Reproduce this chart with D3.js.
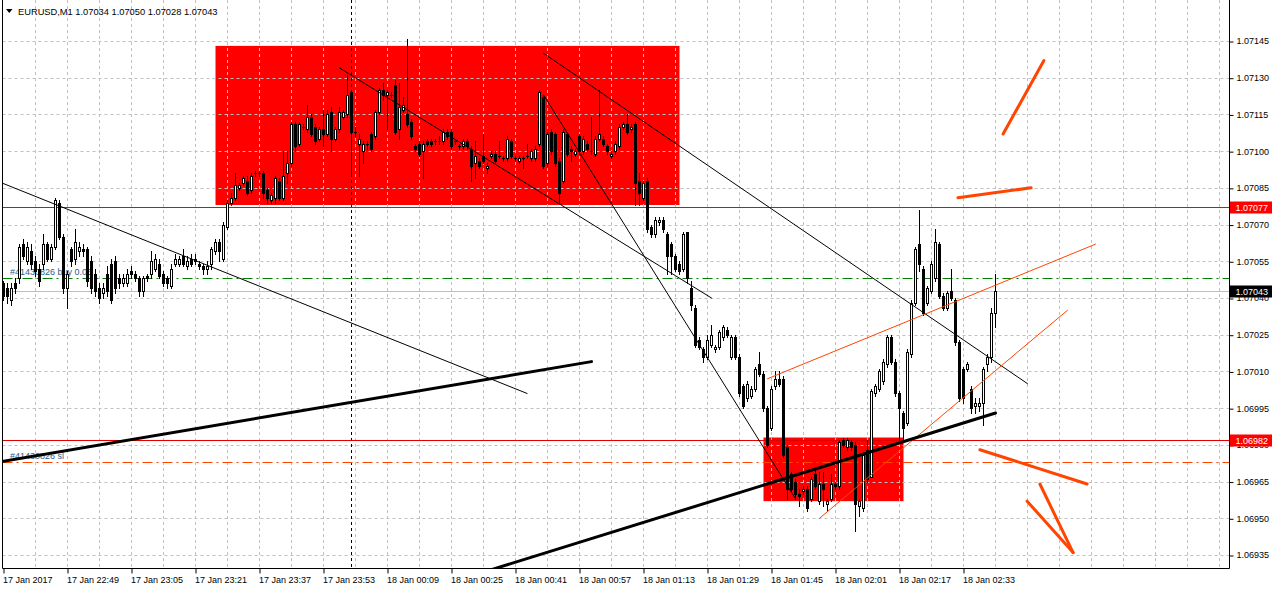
<!DOCTYPE html>
<html><head><meta charset="utf-8">
<script src="https://cdn.jsdelivr.net/npm/d3@7/dist/d3.min.js"></script>
<style>
body{margin:0;background:#fff;}
svg{display:block;}
text{font-family:'Liberation Sans',Arial,sans-serif;}
</style>
</head><body>
<svg id="chart" width="1272" height="589"></svg>
<script>
// ---------------- DATA ----------------
const symbol = "EURUSD,M1";
const headerOHLC = ["1.07034","1.07050","1.07028","1.07043"];
// prices in points (1 point = 0.00001)
const openPts = [107046,107044,107039,107046,107048,107062,107055,107059,107055,107052,107054,107062,107056,107061,107079,107065,107044,107060,107056,107059,107060,107060,107055,107050,107044,107042,107050,107054,107055,107048,107046,107046,107051,107050,107048,107043,107049,107050,107052,107054,107050,107048,107045,107054,107054,107057,107053,107056,107055,107054,107053,107052,107054,107059,107063,107056,107069,107079,107081,107085,107087,107088,107084,107091,107091,107091,107084,107080,107081,107088,107081,107091,107095,107111,107103,107110,107109,107114,107110,107105,107109,107107,107116,107105,107109,107114,107115,107124,107108,107103,107100,107103,107107,107106,107116,107125,107123,107123,107127,107109,107117,107115,107112,107102,107103,107100,107104,107104,107104,107104,107104,107108,107108,107104,107102,107102,107104,107101,107095,107096,107098,107093,107098,107099,107098,107097,107097,107104,107097,107096,107097,107098,107097,107097,107103,107122,107095,107108,107107,107096,107088,107107,107101,107099,107106,107100,107103,107100,107099,107105,107105,107102,107098,107100,107102,107110,107111,107109,107111,107088,107081,107088,107069,107066,107071,107072,107066,107062,107057,107054,107052,107067,107044,107036,107023,107019,107016,107021,107019,107020,107024,107027,107016,107024,107016,107004,106999,107000,107003,107013,107009,106995,106987,107004,107007,107007,106979,106968,106965,106960,106961,106962,106958,106968,106957,106964,106956,106958,106964,106963,106982,106979,106981,106980,106955,106954,106978,106967,107001,107003,107006,107013,107024,107014,107001,106993,106989,107017,107038,107062,107052,107038,107043,107048,107062,107041,107036,107043,107039,107022,107011,107011,107003,106996,106996,106997,107013,107016,107034];
const highPts = [107047,107046,107046,107048,107062,107064,107063,107062,107057,107054,107066,107063,107062,107081,107080,107066,107051,107061,107068,107063,107062,107061,107057,107052,107046,107046,107053,107056,107057,107050,107050,107052,107053,107051,107049,107049,107050,107059,107058,107056,107051,107049,107054,107058,107057,107060,107057,107058,107058,107055,107054,107055,107061,107064,107064,107071,107080,107083,107091,107087,107090,107090,107091,107092,107092,107092,107085,107083,107090,107089,107100,107100,107112,107112,107112,107111,107119,107115,107111,107110,107117,107117,107118,107110,107118,107117,107131,107125,107110,107107,107104,107104,107108,107117,107126,107128,107125,107124,107129,107128,107122,107146,107113,107103,107104,107104,107105,107105,107105,107106,107109,107109,107109,107105,107103,107105,107105,107102,107104,107097,107107,107095,107100,107100,107104,107098,107106,107105,107098,107098,107098,107103,107101,107102,107125,107123,107108,107109,107108,107097,107109,107108,107102,107101,107107,107106,107104,107114,107106,107125,107106,107103,107100,107104,107111,107112,107115,107111,107112,107091,107088,107089,107070,107073,107073,107073,107067,107063,107058,107055,107067,107067,107047,107037,107024,107020,107025,107029,107021,107027,107029,107028,107025,107025,107017,107005,107006,107004,107012,107018,107010,106996,107004,107010,107010,107008,106980,106969,106966,106962,106963,106963,106967,106970,106969,106969,106958,106968,106965,106982,106983,106983,106982,106981,106958,106977,106982,107003,107005,107011,107015,107025,107025,107015,107002,106994,107019,107039,107061,107076,107053,107045,107055,107068,107063,107042,107043,107052,107040,107023,107012,107014,107004,106999,106999,107012,107017,107036,107050];
const lowPts = [107039,107038,107037,107042,107046,107056,107054,107052,107049,107045,107052,107055,107055,107060,107064,107042,107036,107053,107054,107057,107057,107045,107042,107041,107038,107040,107041,107038,107042,107044,107045,107045,107048,107047,107041,107041,107047,107048,107051,107048,107045,107044,107044,107053,107053,107053,107052,107053,107054,107052,107050,107050,107052,107058,107055,107055,107068,107078,107080,107084,107086,107082,107083,107090,107090,107081,107079,107079,107079,107080,107080,107087,107094,107100,107102,107109,107108,107106,107103,107104,107102,107106,107100,107104,107108,107113,107114,107091,107106,107090,107095,107101,107100,107105,107115,107121,107109,107122,107107,107105,107116,107110,107105,107100,107098,107089,107102,107102,107103,107103,107103,107105,107101,107103,107101,107101,107101,107088,107089,107093,107095,107091,107097,107095,107097,107096,107096,107097,107096,107095,107093,107097,107096,107096,107102,107093,107094,107099,107094,107079,107087,107098,107096,107098,107099,107099,107100,107099,107098,107104,107102,107099,107097,107099,107101,107109,107107,107108,107078,107078,107080,107067,107065,107065,107070,107067,107050,107050,107051,107050,107051,107046,107035,107020,107019,107014,107015,107020,107018,107019,107023,107024,107015,107015,107000,106995,106998,106999,107002,107008,106994,106979,106986,107003,107004,106975,106958,106961,106958,106955,106960,106953,106957,106962,106956,106955,106953,106957,106962,106962,106979,106978,106978,106945,106951,106953,106965,106977,107000,107002,107005,107012,107013,107000,106982,106982,106988,107016,107037,107051,107033,107037,107042,107047,107040,107035,107035,107039,107021,106998,106997,107010,106993,106993,106994,106988,107010,107014,107028];
const closePts = [107041,107041,107044,107044,107061,107057,107061,107054,107051,107047,107062,107056,107061,107080,107065,107044,107050,107055,107063,107061,107059,107047,107044,107043,107040,107044,107043,107039,107044,107046,107048,107050,107050,107048,107043,107048,107048,107055,107056,107049,107046,107046,107052,107056,107056,107054,107055,107054,107056,107053,107052,107053,107060,107063,107059,107070,107079,107081,107086,107086,107089,107083,107090,107091,107091,107083,107081,107082,107089,107081,107090,107095,107111,107102,107111,107110,107114,107107,107104,107109,107107,107115,107105,107109,107116,107116,107123,107108,107108,107105,107103,107103,107101,107116,107125,107123,107124,107123,107108,107118,107119,107111,107106,107101,107099,107103,107103,107103,107104,107104,107108,107106,107102,107104,107102,107104,107102,107094,107098,107094,107096,107094,107099,107096,107098,107097,107105,107098,107097,107097,107097,107098,107100,107101,107124,107094,107107,107100,107095,107083,107108,107099,107100,107100,107100,107105,107101,107100,107105,107107,107103,107100,107099,107103,107110,107111,107108,107110,107087,107083,107087,107068,107066,107072,107072,107068,107057,107057,107052,107051,107066,107048,107037,107021,107020,107016,107023,107025,107020,107026,107028,107025,107024,107016,107001,106996,107005,107003,107011,107009,106995,106980,107003,107007,107005,106976,106962,106962,106960,106959,106962,106954,106966,106963,106964,106962,106957,106964,106963,106981,106980,106982,106979,106956,106957,106976,106966,107002,107004,107010,107014,107024,107014,107001,106995,106987,107018,107038,107060,107054,107034,107044,107054,107063,107041,107036,107042,107040,107022,106999,106999,107013,106995,106997,106997,107011,107016,107034,107043];

// axis ticks
const priceTicks = [1.06935,1.06950,1.06965,1.06980,1.06995,1.07010,1.07025,1.07040,1.07055,1.07070,1.07085,1.07100,1.07115,1.07130,1.07145];
const timeTickBars = [0,16,32,48,64,80,96,112,128,144,160,176,192,208,224,240];
const timeTickLabels = ["17 Jan 2017","17 Jan 22:49","17 Jan 23:05","17 Jan 23:21","17 Jan 23:37","17 Jan 23:53","18 Jan 00:09","18 Jan 00:25","18 Jan 00:41","18 Jan 00:57","18 Jan 01:13","18 Jan 01:29","18 Jan 01:45","18 Jan 02:01","18 Jan 02:17","18 Jan 02:33"];
const gridBars = d3.range(8, 310, 8);
const separatorBar = 87; // 18 Jan 00:00

// objects (bar index, price)
const rectangles = [
  {b1:53, b2:169, p1:1.07143, p2:1.07078},
  {b1:190, b2:225, p1:1.06983, p2:1.06957}
];
const hLevels = [
  {price:1.07077, color:"#ff0000", label:"1.07077", box:"#ff0000"},
  {price:1.06982, color:"#e00000", label:"1.06982", box:"#ff0000"}
];
const bidPrice = 1.07043;
const buyLevel = {price:1.07048, text:"#41430826 buy 0.05"};
const slLevel = {price:1.06973, text:"#41430826 sl"};
const thinBlackLines = [
  [[-0.4,1.07087],[130.9,1.07001]],
  [[84,1.07134],[177,1.07040]],
  [[135,1.07140],[256,1.07005]],
  [[135,1.07123],[198,1.06958]]
];
const thickBlackLines = [
  [[-1,1.06973],[147,1.07014]],
  [[120,1.06928],[248,1.06993]]
];
const thinOrangeLines = [
  [[191,1.07007],[273,1.07062]],
  [[204,1.06950],[266,1.07035]]
];
const thickOrangeLines = [
  [[249.9,1.07107],[260.1,1.07137]],
  [[238.6,1.07081],[256.9,1.07085]],
  [[244.1,1.06978],[270.9,1.06964]],
  [[259.1,1.06964],[267.4,1.06936]],
  [[255.9,1.06957],[267.4,1.06936]]
];

// ---------------- CHART ----------------
const svg = d3.select("#chart");
const W = 1272, H = 589;
const plotL = 2.5, plotR = 1229.5, plotT = 0, plotB = 568.5;
const PT = 1e-5;
const bars = openPts.map((o,i)=>({i, o:o*PT, h:highPts[i]*PT, l:lowPts[i]*PT, c:closePts[i]*PT}));

const x = d3.scaleLinear().domain([0,1]).range([3.5,7.5]);
const y = d3.scaleLinear().domain([1.06935,1.07145]).range([555,41]);
const ry = p => Math.round(y(p));

svg.append("rect").attr("width",W).attr("height",H).attr("fill","#fff");
svg.append("defs").append("clipPath").attr("id","clip")
  .append("rect").attr("x",plotL).attr("y",plotT).attr("width",plotR-plotL).attr("height",plotB-plotT);
const g = svg.append("g").attr("clip-path","url(#clip)");

// rectangles (background)
g.selectAll("rect.obj").data(rectangles).join("rect").attr("class","obj")
  .attr("x",d=>x(d.b1)).attr("width",d=>x(d.b2)-x(d.b1))
  .attr("y",d=>y(d.p1)).attr("height",d=>y(d.p2)-y(d.p1))
  .attr("fill","#ff0000");

// grid
g.selectAll("line.hg").data(priceTicks).join("line").attr("class","hg")
  .attr("x1",plotL).attr("x2",plotR).attr("y1",d=>ry(d)+0.5).attr("y2",d=>ry(d)+0.5)
  .attr("stroke","#c0c0c0").attr("stroke-dasharray","3,3");
g.selectAll("line.vg").data(gridBars).join("line").attr("class","vg")
  .attr("x1",d=>x(d)).attr("x2",d=>x(d)).attr("y1",plotT).attr("y2",plotB)
  .attr("stroke","#c0c0c0").attr("stroke-dasharray","3,3");
// period separator
g.append("line").attr("x1",x(separatorBar)).attr("x2",x(separatorBar)).attr("y1",plotT).attr("y2",plotB)
  .attr("stroke","#000").attr("stroke-dasharray","3,3");

// horizontal levels
hLevels.forEach(d=>{
  g.append("line").attr("x1",plotL).attr("x2",plotR).attr("y1",ry(d.price)+0.5).attr("y2",ry(d.price)+0.5)
   .attr("stroke",d.color);
});
g.append("line").attr("x1",plotL).attr("x2",plotR).attr("y1",ry(bidPrice)+0.5).attr("y2",ry(bidPrice)+0.5)
 .attr("stroke","#c0c0c0");
g.append("line").attr("x1",plotL).attr("x2",plotR).attr("y1",ry(buyLevel.price)+0.5).attr("y2",ry(buyLevel.price)+0.5)
 .attr("stroke","#008000").attr("stroke-dasharray","10,4,2,4");
g.append("line").attr("x1",plotL).attr("x2",plotR).attr("y1",ry(slLevel.price)+0.5).attr("y2",ry(slLevel.price)+0.5)
 .attr("stroke","#ff4500").attr("stroke-dasharray","10,4,2,4");
g.append("text").attr("x",10).attr("y",ry(buyLevel.price)-3).attr("font-size","9px").attr("fill","#2f5d8a").text(buyLevel.text);
g.append("text").attr("x",10).attr("y",ry(slLevel.price)-3).attr("font-size","9px").attr("fill","#2f5d8a").text(slLevel.text);

// candles
const cg = g.append("g").attr("shape-rendering","crispEdges");
cg.selectAll("line.wick").data(bars).join("line").attr("class","wick")
  .attr("x1",d=>x(d.i)).attr("x2",d=>x(d.i))
  .attr("y1",d=>ry(d.h)).attr("y2",d=>ry(d.l)+1)
  .attr("stroke","#000");
cg.selectAll("rect.body").data(bars.filter(d=>d.c!==d.o)).join("rect").attr("class","body")
  .each(function(d){
    const s = d3.select(this);
    const top = Math.min(ry(d.o),ry(d.c)), bot = Math.max(ry(d.o),ry(d.c));
    if (d.c > d.o) {
      s.attr("x",x(d.i)-1).attr("width",2).attr("y",top+0.5).attr("height",Math.max(bot-top,1))
       .attr("fill","#fff").attr("stroke","#000");
    } else {
      s.attr("x",x(d.i)-1.5).attr("width",3).attr("y",top).attr("height",bot-top+1).attr("fill","#000");
    }
  });
cg.selectAll("line.doji").data(bars.filter(d=>d.c===d.o)).join("line").attr("class","doji")
  .attr("x1",d=>x(d.i)-1.5).attr("x2",d=>x(d.i)+1.5)
  .attr("y1",d=>ry(d.o)+0.5).attr("y2",d=>ry(d.o)+0.5).attr("stroke","#000");

// trend lines
const drawLines = (data, color, width) => g.append("g").selectAll("line").data(data).join("line")
  .attr("x1",d=>x(d[0][0])).attr("y1",d=>y(d[0][1]))
  .attr("x2",d=>x(d[1][0])).attr("y2",d=>y(d[1][1]))
  .attr("stroke",color).attr("stroke-width",width).attr("stroke-linecap","round");
drawLines(thinBlackLines,"#000",1);
drawLines(thinOrangeLines,"#ff4500",1);
drawLines(thickBlackLines,"#000",3);
drawLines(thickOrangeLines,"#ff4500",3);

// axes frame
svg.append("line").attr("x1",plotL).attr("x2",plotL).attr("y1",0).attr("y2",plotB).attr("stroke","#000");
svg.append("line").attr("x1",plotR).attr("x2",plotR).attr("y1",0).attr("y2",plotB).attr("stroke","#000");

// right axis
const ya = svg.append("g").attr("transform",`translate(${plotR},0)`)
  .call(d3.axisRight(y).tickValues(priceTicks).tickSize(4).tickPadding(3).tickFormat(d3.format(".5f")));
ya.select(".domain").remove();
ya.selectAll(".tick line").attr("stroke","#000").attr("transform","translate(0,0.5)");
ya.selectAll(".tick text").attr("font-family","'Liberation Sans',Arial,sans-serif").attr("font-size","9px").attr("fill","#000");

// bottom axis
const xa = svg.append("g").attr("transform",`translate(0,${plotB})`)
  .call(d3.axisBottom(x).tickValues(timeTickBars).tickSize(5).tickPadding(3)
    .tickFormat((d,k)=>timeTickLabels[k]));
xa.select(".domain").remove();
svg.append("line").attr("x1",plotL).attr("x2",plotR).attr("y1",plotB).attr("y2",plotB).attr("stroke","#000");
xa.selectAll(".tick text").attr("text-anchor","start").attr("dx","-1")
  .attr("font-family","'Liberation Sans',Arial,sans-serif").attr("font-size","9px").attr("fill","#000");

// price label boxes
const boxes = [...hLevels.map(d=>({price:d.price,label:d.label,fill:d.box})), {price:bidPrice,label:"1.07043",fill:"#000"}];
const bg = svg.append("g").selectAll("g").data(boxes).join("g")
  .attr("transform",d=>`translate(${plotR+0.5},${ry(d.price)})`);
bg.append("rect").attr("x",0).attr("y",-5.5).attr("width",W-plotR).attr("height",12).attr("fill",d=>d.fill);
bg.append("text").attr("x",5.5).attr("y",4).attr("font-size","9px").attr("fill","#fff").text(d=>d.label);

// header
svg.append("path").attr("d","M6,9 L12.5,9 L9.25,13 Z").attr("fill","#000");
svg.append("text").attr("x",18).attr("y",14.5).attr("font-size","9.3px").attr("fill","#000")
  .text(symbol + "  " + headerOHLC.join(" "));
</script>
</body></html>
